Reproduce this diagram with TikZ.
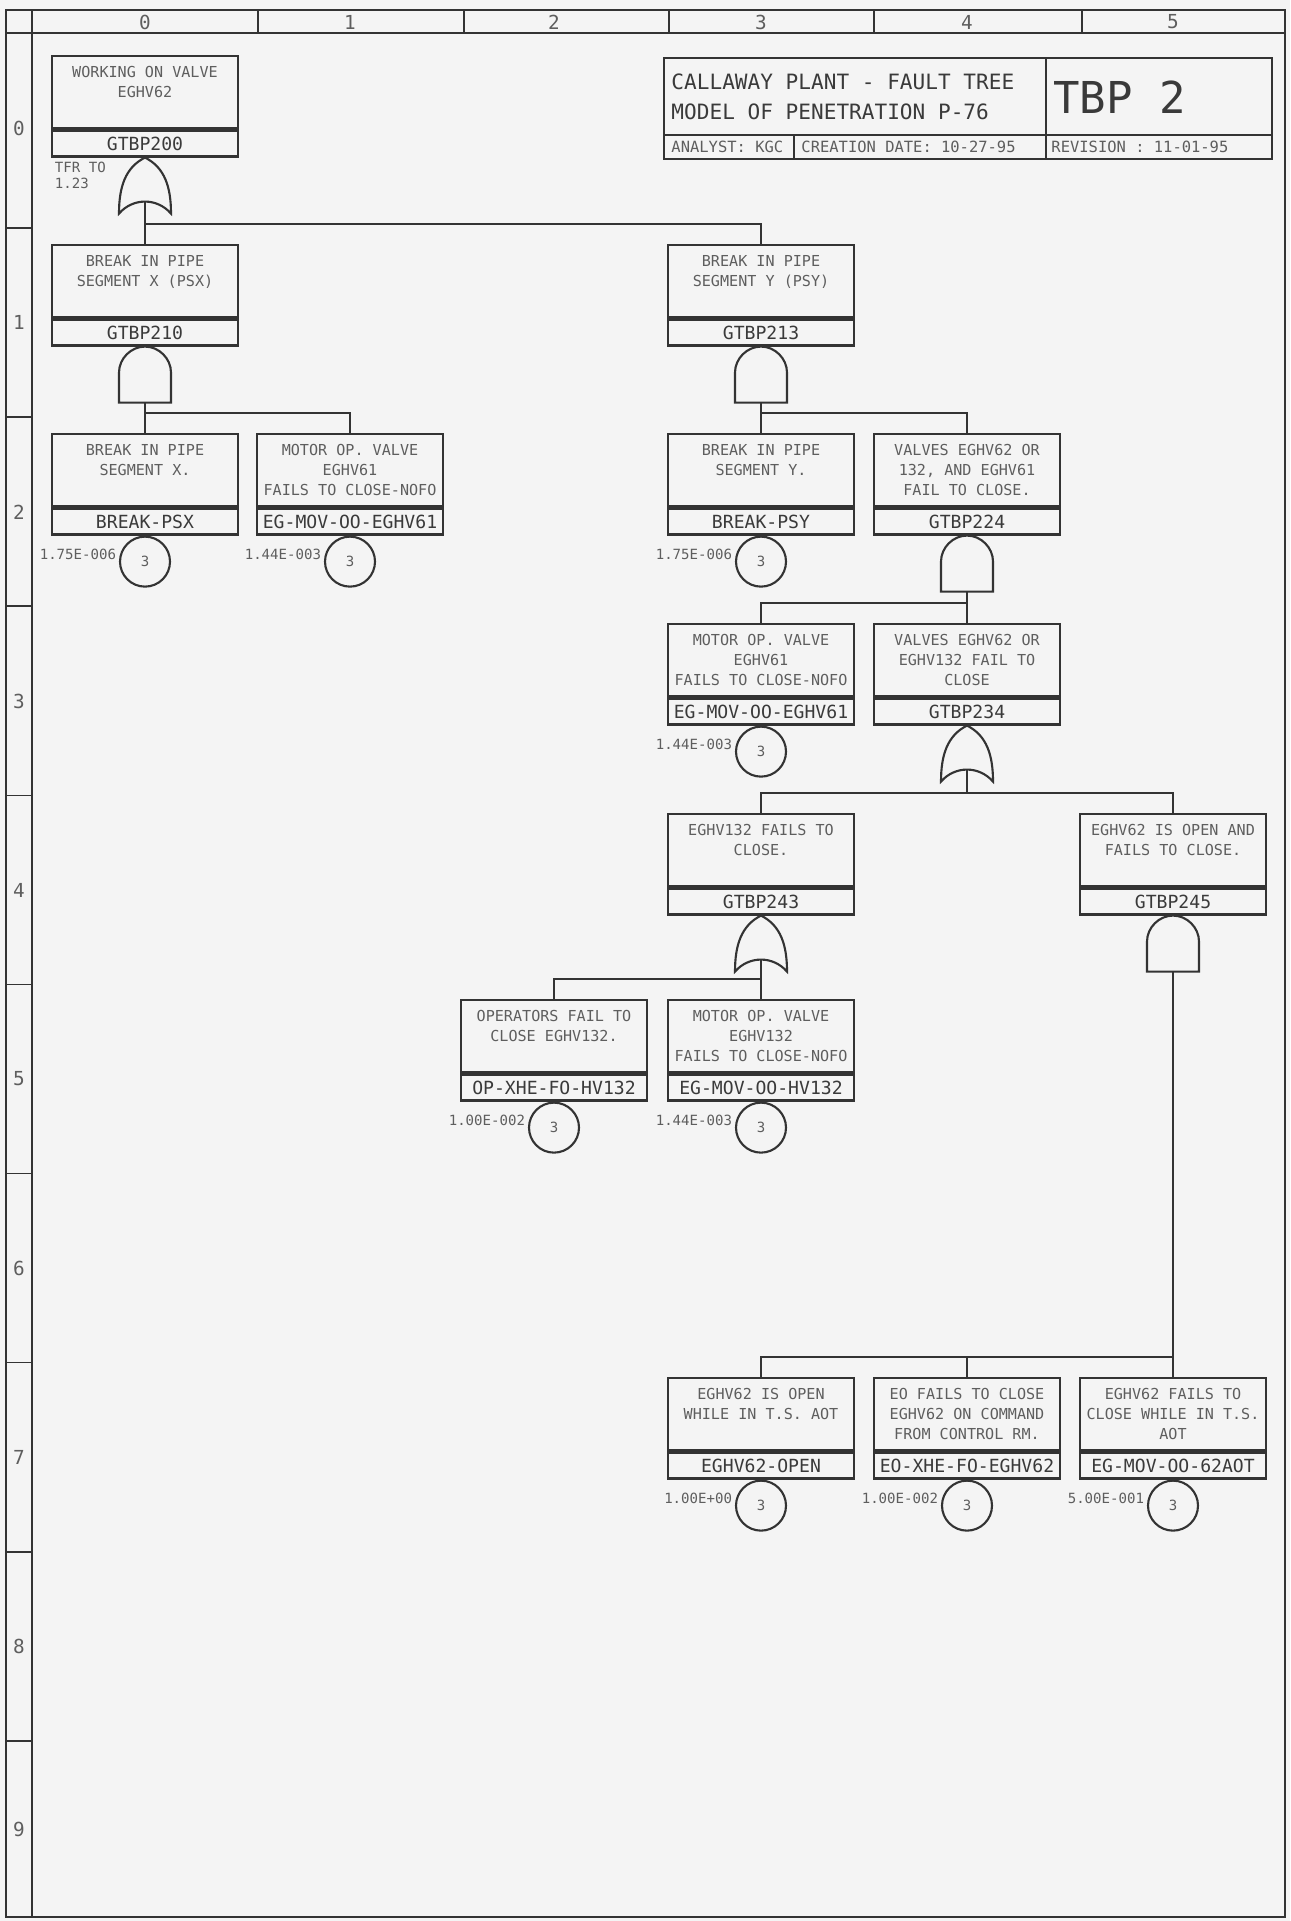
\documentclass[tikz,border=0pt]{standalone}
\usepackage{fontspec}
\setmonofont{DejaVu Sans Mono}
\usetikzlibrary{positioning}
\definecolor{paperbg}{HTML}{F4F4F4}
\definecolor{linecolor}{HTML}{333333}
\definecolor{textcolor}{HTML}{5E5E5E}
\definecolor{idcolor}{HTML}{3A3A3A}

\begin{document}
\begin{tikzpicture}[
    x=0.2mm, y=-0.2mm,
    color=linecolor,
    line width=1.1pt,
    font=\ttfamily,
    desc/.style={draw, anchor=north, minimum width=37.2mm, minimum height=14.4mm, inner sep=0pt, line width=1.3pt},
    txt/.style={anchor=north, align=center, text=textcolor, inner xsep=0pt, inner ysep=2.1mm, font=\ttfamily\fontsize{8.6}{11.4}\selectfont},
    idbox/.style={draw, minimum width=37.2mm, minimum height=5.2mm, inner sep=0pt, line width=1.3pt, text=idcolor, font=\ttfamily\fontsize{10.3}{12}\selectfont},
    basic/.style={draw, circle, minimum size=10mm, inner sep=0pt, line width=1.2pt, text=textcolor, font=\ttfamily\fontsize{8}{9}\selectfont},
    prob/.style={text=textcolor, inner xsep=0.4mm, yshift=1.4mm, font=\ttfamily\fontsize{8}{9.5}\selectfont},
    gridlabel/.style={text=textcolor, font=\ttfamily\fontsize{11}{12}\selectfont},
    infotext/.style={anchor=west, inner sep=0.5mm, text=textcolor, font=\ttfamily\fontsize{8.8}{10}\selectfont},
    titletext/.style={anchor=west, inner sep=0.5mm, text=idcolor, font=\ttfamily\fontsize{12}{14}\selectfont},
    andgate/.pic={
        \draw[line width=1.2pt] (-26,56) -- (-26,26) .. controls (-26,12) and (-14,0) .. (0,0)
            .. controls (14,0) and (26,12) .. (26,26) -- (26,56) -- cycle;
        \coordinate (-out) at (0,56);
    },
    orgate/.pic={
        \draw[line width=1.2pt] (0,0) .. controls (20,10) and (26,30) .. (26,56)
            .. controls (12,40) and (-12,40) .. (-26,56)
            .. controls (-26,30) and (-20,10) .. (0,0) -- cycle;
        \coordinate (-out) at (0,44);
    }
]

    % Sheet and frame
    \useasboundingbox (0,0) rectangle (1290,1921);
    \fill[paperbg] (0,0) rectangle (1290,1921);
    \draw[line width=0.9pt] (6,10) rectangle (1285,1917);
    \draw[line width=0.9pt] (32,10) -- (32,1917);
    \draw[line width=0.9pt] (6,33) -- (1285,33);
    \foreach \x in {258,464,669,874,1082}
        \draw[line width=0.9pt] (\x,10) -- (\x,33);
    \foreach \k in {0,...,8}
        \draw[line width=0.9pt] (6,228+189.1*\k) -- (32,228+189.1*\k);
    \foreach \n/\x in {0/145,1/350,2/554,3/761,4/967,5/1173}
        \node[gridlabel] (col\n) at (\x,22) {\n};
    \foreach \n/\y in {0/128,1/322,2/512,3/701,4/890,5/1079,6/1268,7/1457,8/1646,9/1829}
        \node[gridlabel] (row\n) at (19,\y) {\n};

    % Title block
    \draw (664,58) rectangle (1272,159);
    \draw (664,135) -- (1272,135);
    \draw (1046,58) -- (1046,159);
    \draw (794,135) -- (794,159);
    \node[titletext] (title1) at (668,82) {CALLAWAY PLANT - FAULT TREE};
    \node[titletext] (title2) at (668,112) {MODEL OF PENETRATION P-76};
    \node[titletext, font=\ttfamily\fontsize{25}{28}\selectfont] (sheet) at (1050,97) {TBP 2};
    \node[infotext] (analyst) at (668,147) {ANALYST: KGC};
    \node[infotext] (created) at (798,147) {CREATION DATE: 10-27-95};
    \node[infotext] (revision) at (1048,147) {REVISION : 11-01-95};

    % Row 0
    \node[desc, label={[txt]north:WORKING ON VALVE\\EGHV62}] (g200) at (145,55) {};
    \node[idbox, below=0pt of g200] (g200id) {GTBP200};
    \pic (o200) at (g200id.south) {orgate};
    \node[prob, anchor=north west, align=left, yshift=-1.6mm] (tfr) at (52,154) {TFR TO\\ 1.23};

    % Row 1
    \node[desc, label={[txt]north:BREAK IN PIPE\\SEGMENT X (PSX)}] (g210) at (145,244) {};
    \node[idbox, below=0pt of g210] (g210id) {GTBP210};
    \pic (a210) at (g210id.south) {andgate};
    \node[desc, label={[txt]north:BREAK IN PIPE\\SEGMENT Y (PSY)}] (g213) at (761,244) {};
    \node[idbox, below=0pt of g213] (g213id) {GTBP213};
    \pic (a213) at (g213id.south) {andgate};

    % Row 2
    \node[desc, label={[txt]north:BREAK IN PIPE\\SEGMENT X.}] (psx) at (145,433) {};
    \node[idbox, below=0pt of psx] (psxid) {BREAK-PSX};
    \node[basic, below=0pt of psxid, label={[prob]west:1.75E-006}] (psxc) {3};
    \node[desc, label={[txt]north:MOTOR OP. VALVE\\EGHV61\\FAILS TO CLOSE-NOFO}] (hv61a) at (350,433) {};
    \node[idbox, below=0pt of hv61a] (hv61aid) {EG-MOV-OO-EGHV61};
    \node[basic, below=0pt of hv61aid, label={[prob]west:1.44E-003}] (hv61ac) {3};
    \node[desc, label={[txt]north:BREAK IN PIPE\\SEGMENT Y.}] (psy) at (761,433) {};
    \node[idbox, below=0pt of psy] (psyid) {BREAK-PSY};
    \node[basic, below=0pt of psyid, label={[prob]west:1.75E-006}] (psyc) {3};
    \node[desc, label={[txt]north:VALVES EGHV62 OR\\132, AND EGHV61\\FAIL TO CLOSE.}] (g224) at (967,433) {};
    \node[idbox, below=0pt of g224] (g224id) {GTBP224};
    \pic (a224) at (g224id.south) {andgate};

    % Row 3
    \node[desc, label={[txt]north:MOTOR OP. VALVE\\EGHV61\\FAILS TO CLOSE-NOFO}] (hv61b) at (761,623) {};
    \node[idbox, below=0pt of hv61b] (hv61bid) {EG-MOV-OO-EGHV61};
    \node[basic, below=0pt of hv61bid, label={[prob]west:1.44E-003}] (hv61bc) {3};
    \node[desc, label={[txt]north:VALVES EGHV62 OR\\EGHV132 FAIL TO\\CLOSE}] (g234) at (967,623) {};
    \node[idbox, below=0pt of g234] (g234id) {GTBP234};
    \pic (o234) at (g234id.south) {orgate};

    % Row 4
    \node[desc, label={[txt]north:EGHV132 FAILS TO\\CLOSE.}] (g243) at (761,813) {};
    \node[idbox, below=0pt of g243] (g243id) {GTBP243};
    \pic (o243) at (g243id.south) {orgate};
    \node[desc, label={[txt]north:EGHV62 IS OPEN AND\\FAILS TO CLOSE.}] (g245) at (1173,813) {};
    \node[idbox, below=0pt of g245] (g245id) {GTBP245};
    \pic (a245) at (g245id.south) {andgate};

    % Row 5
    \node[desc, label={[txt]north:OPERATORS FAIL TO\\CLOSE EGHV132.}] (op132) at (554,999) {};
    \node[idbox, below=0pt of op132] (op132id) {OP-XHE-FO-HV132};
    \node[basic, below=0pt of op132id, label={[prob]west:1.00E-002}] (op132c) {3};
    \node[desc, label={[txt]north:MOTOR OP. VALVE\\EGHV132\\FAILS TO CLOSE-NOFO}] (hv132) at (761,999) {};
    \node[idbox, below=0pt of hv132] (hv132id) {EG-MOV-OO-HV132};
    \node[basic, below=0pt of hv132id, label={[prob]west:1.44E-003}] (hv132c) {3};

    % Row 7
    \node[desc, label={[txt]north:EGHV62 IS OPEN\\WHILE IN T.S. AOT}] (open62) at (761,1377) {};
    \node[idbox, below=0pt of open62] (open62id) {EGHV62-OPEN};
    \node[basic, below=0pt of open62id, label={[prob]west:1.00E+00}] (open62c) {3};
    \node[desc, label={[txt]north:EO FAILS TO CLOSE\\EGHV62 ON COMMAND\\FROM CONTROL RM.}] (eo62) at (967,1377) {};
    \node[idbox, below=0pt of eo62] (eo62id) {EO-XHE-FO-EGHV62};
    \node[basic, below=0pt of eo62id, label={[prob]west:1.00E-002}] (eo62c) {3};
    \node[desc, label={[txt]north:EGHV62 FAILS TO\\CLOSE WHILE IN T.S.\\AOT}] (aot62) at (1173,1377) {};
    \node[idbox, below=0pt of aot62] (aot62id) {EG-MOV-OO-62AOT};
    \node[basic, below=0pt of aot62id, label={[prob]west:5.00E-001}] (aot62c) {3};

    % Tree connections
    \draw (g210.north) -- (o200-out);
    \draw (g213.north) -- ++(0,-20) -| (o200-out);
    \draw (psx.north) -- (a210-out);
    \draw (hv61a.north) -- ++(0,-20) -| (a210-out);
    \draw (psy.north) -- (a213-out);
    \draw (g224.north) -- ++(0,-20) -| (a213-out);
    \draw (g234.north) -- (a224-out);
    \draw (hv61b.north) -- ++(0,-20) -| (a224-out);
    \draw (g243.north) -- ++(0,-20) -| (o234-out);
    \draw (g245.north) -- ++(0,-20) -| (o234-out);
    \draw (hv132.north) -- (o243-out);
    \draw (op132.north) -- ++(0,-20) -| (o243-out);
    \draw (aot62.north) -- (a245-out);
    \draw (eo62.north) -- ++(0,-20) -| (a245-out);
    \draw (open62.north) -- ++(0,-20) -| (a245-out);

\end{tikzpicture}
\end{document}
